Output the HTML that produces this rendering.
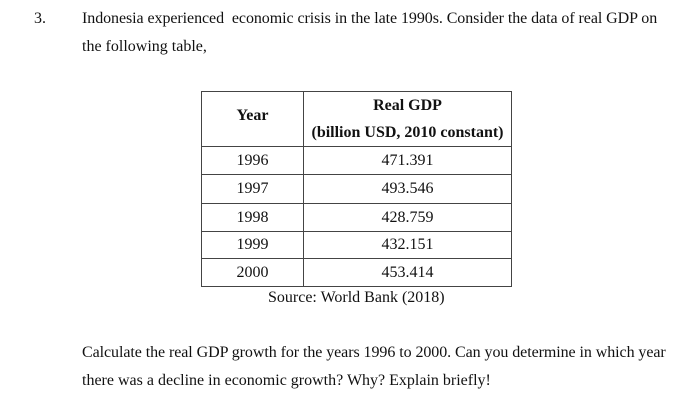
<!DOCTYPE html>
<html><head><meta charset="utf-8"><style>
body{margin:0;width:696px;height:406px;background:#fff;font-family:"Liberation Serif",serif;color:#111;font-size:16px;position:relative;overflow:hidden}
.t{position:absolute;white-space:nowrap;line-height:1}
table{position:absolute;left:201px;top:91px;border-collapse:collapse;width:311px}
td{border:1px solid #444;padding:0;text-align:center;font-size:16px}
</style></head><body>
<div class="t" style="left:34px;top:11px">3.</div>
<div class="t" style="left:82px;top:11px;letter-spacing:-0.07px">Indonesia experienced&nbsp; economic crisis in the late 1990s. Consider the data of real GDP on</div>
<div class="t" style="left:82px;top:39px">the following table,</div>
<table>
<tr style="height:52px"><td style="width:101px;font-weight:bold;vertical-align:top;padding-top:15px">Year</td>
<td style="font-weight:bold;line-height:27px">Real GDP<br>(billion USD, 2010 constant)</td></tr>
<tr style="height:28px"><td>1996</td><td>471.391</td></tr>
<tr style="height:29px"><td>1997</td><td>493.546</td></tr>
<tr style="height:28px"><td>1998</td><td>428.759</td></tr>
<tr style="height:27px"><td>1999</td><td>432.151</td></tr>
<tr style="height:28px"><td>2000</td><td>453.414</td></tr>
</table>
<div class="t" style="left:268px;top:290px">Source: World Bank (2018)</div>
<div class="t" style="left:82px;top:345px;letter-spacing:-0.07px">Calculate the real GDP growth for the years 1996 to 2000. Can you determine in which year</div>
<div class="t" style="left:82px;top:373px">there was a decline in economic growth? Why? Explain briefly!</div>
</body></html>
